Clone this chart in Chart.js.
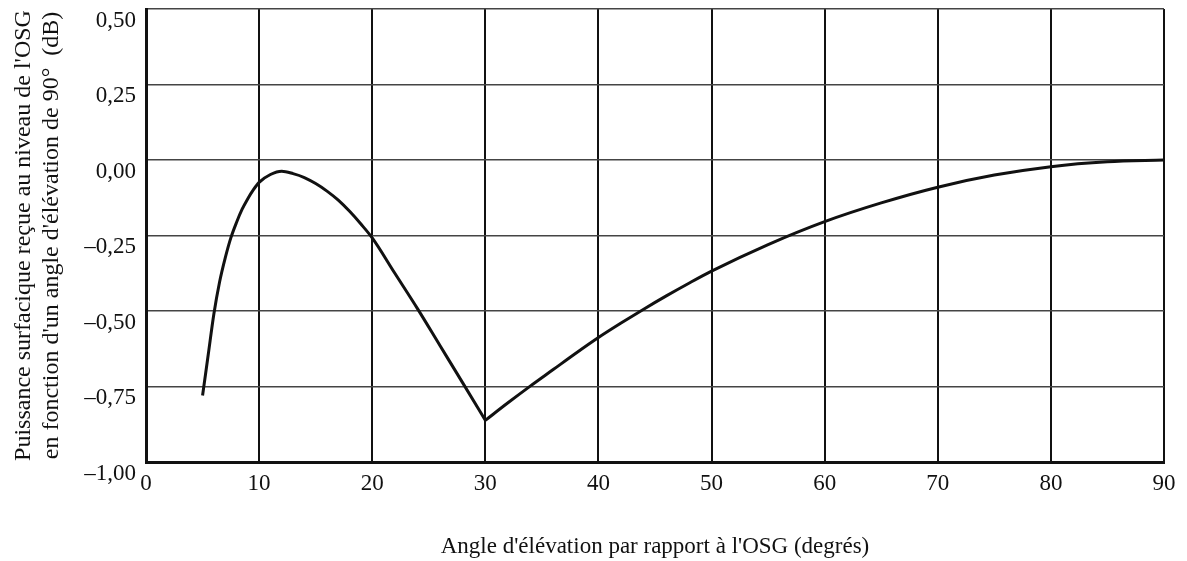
<!DOCTYPE html>
<html>
<head>
<meta charset="utf-8">
<script src="https://cdn.jsdelivr.net/npm/chart.js@4"></script>
<style>
html,body{margin:0;padding:0;background:#fff;}
#wrap{width:1187px;height:561px;position:relative;}
</style>
</head>
<body>
<div id="wrap"><canvas id="c" width="1187" height="561"></canvas></div>
<script>
// Branch 1: 5° to 30°
const anglesA = [5, 5.5, 6, 6.5, 7, 7.5, 8, 8.5, 9, 9.5, 10, 11, 12, 13, 14, 15, 16, 17, 18, 19, 20, 22, 24, 26, 28, 30];
const valuesA = [-0.78, -0.645, -0.51, -0.405, -0.325, -0.258, -0.207, -0.163, -0.128, -0.098, -0.074, -0.048, -0.037, -0.045, -0.058, -0.078, -0.103, -0.133, -0.17, -0.212, -0.258, -0.375, -0.492, -0.615, -0.738, -0.862];
// Branch 2: 30° to 90°
const anglesB = [30, 32, 34, 36, 38, 40, 42, 44, 46, 48, 50, 55, 60, 65, 70, 75, 80, 85, 90];
const valuesB = [-0.862, -0.804, -0.748, -0.694, -0.64, -0.588, -0.54, -0.494, -0.45, -0.408, -0.368, -0.28, -0.204, -0.142, -0.090, -0.050, -0.022, -0.006, 0.00];
const xTickLabels = ["0","10","20","30","40","50","60","70","80","90"];
const yTickLabels = ["–1,00","–0,75","–0,50","–0,25","0,00","0,25","0,50"];
const yTitle = ["Puissance surfacique reçue au niveau de l'OSG", "en fonction d'un angle d'élévation de 90°  (dB)"];
const xTitle = "Angle d'élévation par rapport à l'OSG (degrés)";

const toPts = (xs, ys) => xs.map((a, i) => ({x: a, y: ys[i]}));
const fam = "'Liberation Serif', 'Times New Roman', serif";
const font = {family: fam, size: 23};
const lineStyle = {showLine: true, borderColor: '#111', borderWidth: 3, pointRadius: 0, cubicInterpolationMode: 'monotone', fill: false};

new Chart(document.getElementById('c'), {
  type: 'scatter',
  data: {
    datasets: [
      Object.assign({data: toPts(anglesA, valuesA)}, lineStyle),
      Object.assign({data: toPts(anglesB, valuesB)}, lineStyle)
    ]
  },
  options: {
    responsive: false,
    animation: false,
    devicePixelRatio: 1,
    layout: {padding: {top: 9, right: 23, left: 0, bottom: 0}},
    plugins: {legend: {display: false}, tooltip: {enabled: false}},
    scales: {
      x: {
        type: 'linear', min: 0, max: 90,
        ticks: {
          stepSize: 10, color: '#111', font: font, padding: 8,
          callback: (v) => xTickLabels[Math.round(v / 10)]
        },
        grid: {color: '#111', lineWidth: 2, drawTicks: false},
        border: {color: '#111', width: 3},
        title: {display: true, text: xTitle, color: '#111', font: font, padding: {top: 24, bottom: 0}},
        afterFit: (s) => { s.height = 99; s.paddingLeft = 0; s.paddingRight = 0; }
      },
      y: {
        type: 'linear', min: -1, max: 0.5,
        ticks: {
          stepSize: 0.25, color: '#111', font: {family: fam, size: 23, lineHeight: 1.0}, padding: 10,
          callback: (v) => ["", yTickLabels[Math.round((v + 1) / 0.25)]]
        },
        grid: {color: '#444', lineWidth: 1.5, drawTicks: false},
        border: {color: '#111', width: 3},
        title: {display: true, text: yTitle, color: '#111', font: {family: fam, size: 24, lineHeight: 1.15}, padding: {top: 10, bottom: 0}},
        afterFit: (s) => { s.width = 146; s.paddingTop = 0; s.paddingBottom = 0; }
      }
    }
  }
});
</script>
</body>
</html>
